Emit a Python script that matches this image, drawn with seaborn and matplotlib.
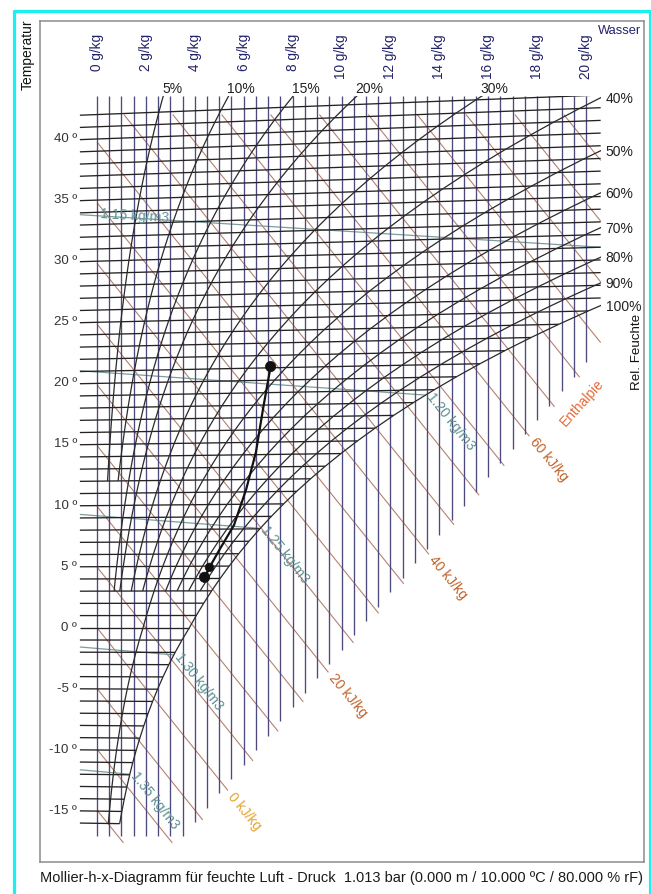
import numpy as np
import pandas as pd
import matplotlib
matplotlib.use("Agg")
import matplotlib.pyplot as plt
from matplotlib.lines import Line2D
from matplotlib.patches import Rectangle
import seaborn as sns

# ---------------- chart data ----------------
PRESSURE_KPA = 101.3  # 1.013 bar

# saturation vapour pressure in kPa (over ice below 0 °C)
SAT_TEMPS = list(range(-17, 46))
SAT_PRESSURE = [
    0.1371, 0.1506, 0.1652, 0.1811, 0.1984, 0.2172, 0.2376, 0.2601, 0.2845,
    0.3105, 0.3385, 0.3689, 0.4019, 0.4375, 0.4760, 0.5177, 0.5627,
    0.6112, 0.6571, 0.7060, 0.7581, 0.8135, 0.8726, 0.9354, 1.0021, 1.0730,
    1.1482, 1.2282, 1.3129, 1.4028, 1.4981, 1.5989, 1.7057, 1.8188, 1.9383,
    2.0647, 2.1982, 2.3392, 2.4881, 2.6452, 2.8109, 2.9856, 3.1697, 3.3637,
    3.5679, 3.7828, 4.0089, 4.2467, 4.4966, 4.7592, 5.0351, 5.3247, 5.6286,
    5.9475, 6.2818, 6.6324, 6.9997, 7.3844, 7.7873, 8.2090, 8.6503, 9.1118,
    9.5944,
]

WATER_TICKS = [0, 2, 4, 6, 8, 10, 12, 14, 16, 18, 20]            # g/kg
WATER_GRID = [i * 0.5 for i in range(41)]                        # g/kg
TEMP_TICKS = [40, 35, 30, 25, 20, 15, 10, 5, 0, -5, -10, -15]     # °C
TEMP_GRID = list(range(-16, 43))                                 # °C
RH_LEVELS = [5, 10, 15, 20, 30, 40, 50, 60, 70, 80, 90, 100]     # %
RH_LOWEST_TEMP = [12, 12, 3, 3, 3, 3, -16, 3, 3, 3, 3, -16]      # °C
RH_TOP_LABELS = [5, 10, 15, 20, 30]
ENTHALPY_GRID = list(range(-15, 96, 5))                          # kJ/kg
ENTHALPY_LABELS = [0, 20, 40, 60]
DENSITY_LEVELS = [1.15, 1.20, 1.25, 1.30, 1.35]                  # kg/m3

# air states of the drawn process (warm state -> cooled states)
PROCESS_TEMP = [21.1, 17.8, 14.2, 11.2, 8.3, 6.3, 4.9, 4.1]
PROCESS_WATER = [7.1, 6.8, 6.5, 6.1, 5.6, 5.0, 4.6, 4.4]
PROCESS_MARKED = [0, 6, 7]

CAPTION = ("Mollier-h-x-Diagramm für feuchte Luft - Druck  1.013 bar "
           "(0.000 m / 10.000 ºC / 80.000 % rF)")

# ---------------- chart geometry ----------------
SKEW = 1.86 / 1.006 / 1000.0     # isotherm tilt per g/kg
X_LEFT, X_RIGHT = -0.7, 20.6     # g/kg
Y_TOP_GRID, Y_TOP_H = 43.5, 42.0
EDGE_SHIFT = 0.6

assert len(SAT_TEMPS) == len(SAT_PRESSURE)


def chart_y(t, x):
    return np.asarray(t, float) * (1.0 + SKEW * np.asarray(x, float))


def water_content(pv):
    return 622.0 * pv / (PRESSURE_KPA - pv)


def fog_edge(x):
    return max(-17.0, -15.7 + 2.35 * (x - 4.08))


def enthalpy_y(h, x):
    return (h - 2.501 * x) / 1.006


def density_temp(rho, x):
    xk = np.asarray(x, float) / 1000.0
    T = PRESSURE_KPA * 1000.0 / (rho * 287.05) * (1 + xk) / (1 + 1.608 * xk)
    return T - 273.15


sat_t = np.array(SAT_TEMPS, float)
sat_p = np.array(SAT_PRESSURE, float)
sat_x = water_content(sat_p)

# ---------------- figure ----------------
sns.set_theme(style="white")
plt.rcParams["font.family"] = ["Liberation Sans", "DejaVu Sans"]

W, H = 651, 894
fig = plt.figure(figsize=(W / 100, H / 100), dpi=100)
fig.patch.set_facecolor("white")
ax = fig.add_axes([40 / W, 1 - 862 / H, 604 / W, 841 / H])
ax.set_facecolor("white")

PX0, PXS, PY0, PYS = 97.0, 24.45, 627.8, 12.22


def from_px(px, py):
    return (px - PX0) / PXS, (PY0 - py) / PYS


clip_box = Rectangle((-1.0, -30.0), X_RIGHT + 1.0, Y_TOP_GRID + 30.0,
                     transform=ax.transData, visible=False)


def draw_family(rows, color, lw, z, clip=False, alpha=1.0):
    frame = pd.DataFrame(rows, columns=["line", "x", "y"])
    n0 = len(ax.lines)
    sns.lineplot(data=frame, x="x", y="y", units="line", estimator=None,
                 sort=False, color=color, linewidth=lw, alpha=alpha,
                 legend=False, ax=ax, zorder=z)
    for ln in ax.lines[n0:]:
        ln.set_solid_capstyle("butt")
        if clip:
            ln.set_clip_path(clip_box)


# enthalpy lines
rows = []
corner = 4.08 - (17.0 - 15.7) / 2.35
for h in ENTHALPY_GRID:
    xs = max(0.0, (h - 1.006 * Y_TOP_H) / 2.501)
    x_slope = (h + 1.006 * (15.7 + EDGE_SHIFT + 2.35 * 4.08)) / (2.501 + 1.006 * 2.35)
    x_flat = (h + 1.006 * (17.0 + EDGE_SHIFT)) / 2.501
    xe = x_slope if x_slope >= corner else x_flat
    xe = min(xe, X_RIGHT)
    if xe <= xs:
        continue
    rows += [(h, xs, enthalpy_y(h, xs)), (h, xe, enthalpy_y(h, xe))]
    if h in ENTHALPY_LABELS:
        col = "#e3a330" if h == 0 else "#c0622a"
        ax.text(xe + 0.12, enthalpy_y(h, xe) - 0.3, f"{h} kJ/kg",
                rotation=-50.5, rotation_mode="anchor", ha="left", va="center",
                fontsize=10, color=col, zorder=6)
draw_family(rows, "#ad7461", 0.8, 1, alpha=0.9)

# density lines
xg = np.linspace(X_LEFT, X_RIGHT, 600)
t_sat_at = np.interp(xg, sat_x, sat_t)
rows = []
for rho in DENSITY_LEVELS:
    diff = density_temp(rho, xg) - t_sat_at
    xe = X_RIGHT if diff[-1] > 0 else float(np.interp(0.0, -diff, xg))
    xl = np.linspace(X_LEFT, xe, 30)
    yl = chart_y(density_temp(rho, xl), xl)
    rows += [(rho, a, b) for a, b in zip(xl, yl)]
    label = f"{rho:.2f} kg/m3"
    if diff[-1] > 0:
        x0 = 0.15
        y0 = float(chart_y(density_temp(rho, x0), x0))
        ax.text(x0, y0 + 0.15, label, rotation=-3.5, rotation_mode="anchor",
                ha="left", va="center", fontsize=10, color="#5d9396", zorder=6)
    else:
        ax.text(xe + 0.15, yl[-1] + 0.05, label, rotation=-51.5,
                rotation_mode="anchor", ha="left", va="center",
                fontsize=10, color="#5d8f92", zorder=6)
draw_family(rows, "#7d9d9d", 0.9, 1.5)

# lines of constant water content
rows = []
for i, xv in enumerate(WATER_GRID):
    rows += [(i, xv, Y_TOP_GRID), (i, xv, fog_edge(xv))]
draw_family(rows, "#4d4a7c", 0.95, 2)

# isotherms
rows = []
for t in TEMP_GRID:
    xe = min(float(np.interp(t, sat_t, sat_x)), X_RIGHT)
    rows += [(t, X_LEFT, float(chart_y(t, X_LEFT))), (t, xe, float(chart_y(t, xe)))]
draw_family(rows, "#262222", 0.95, 2.5, clip=True)

# relative humidity curves
rows = []
for phi, tmin in zip(RH_LEVELS, RH_LOWEST_TEMP):
    m = sat_t >= tmin
    xc = water_content(phi / 100.0 * sat_p[m])
    yc = chart_y(sat_t[m], xc)
    rows += [(phi, a, b) for a, b in zip(xc, yc)]
    if phi in RH_TOP_LABELS:
        xt = float(np.interp(Y_TOP_GRID, yc, xc))
        ax.text(xt - 0.05, Y_TOP_GRID + 0.05, f"{phi}%", ha="left", va="bottom",
                fontsize=10, color="#222222", zorder=6)
    else:
        ye = min(float(np.interp(X_RIGHT, xc, yc)), Y_TOP_GRID)
        ax.text(X_RIGHT + 0.2, ye - 0.1, f"{phi}%", ha="left", va="center",
                fontsize=10, color="#222222", zorder=6)
draw_family(rows, "#2a2a2a", 0.9, 3, clip=True)

# process path and its states
proc = pd.DataFrame({"x": PROCESS_WATER,
                     "y": chart_y(PROCESS_TEMP, PROCESS_WATER)})
sns.lineplot(data=proc, x="x", y="y", sort=False, estimator=None,
             color="#111111", linewidth=1.6, legend=False, ax=ax, zorder=4)
marked = proc.iloc[PROCESS_MARKED]
sns.scatterplot(data=marked, x="x", y="y", s=[55, 38, 55], color="#111111",
                edgecolor="#111111", legend=False, ax=ax, zorder=5)

# axis texts
for xv in WATER_TICKS:
    ax.text(xv, from_px(0, 34)[1], f"{xv} g/kg", rotation=90, ha="center",
            va="top", fontsize=9.8, color="#23236b", zorder=6)
for t in TEMP_TICKS:
    ax.text(from_px(77, 0)[0], t, f"{t} º", ha="right", va="center",
            fontsize=9.5, color="#333333", zorder=6)

ax.text(*from_px(620, 31), "Wasser", ha="center", va="center", fontsize=9.3,
        color="#23236b", zorder=6)
ax.text(*from_px(28, 55), "Temperatur", rotation=90, ha="center", va="center",
        fontsize=10, color="#111111", clip_on=False, zorder=6)
ax.text(*from_px(637, 352), "Rel. Feuchte", rotation=90, ha="center",
        va="center", fontsize=9.6, color="#111111", zorder=6)
ax.text(*from_px(582, 403), "Enthalpie", rotation=48, ha="center",
        va="center", fontsize=10, color="#e36b3a", zorder=6)

fig.text(40 / W, 1 - 878 / H, CAPTION, ha="left", va="center",
         fontsize=10.5, color="#1a1a1a")

# axes limits / frame
ax.set_xlim((40 - PX0) / PXS, (644 - PX0) / PXS)
ax.set_ylim((PY0 - 862) / PYS, (PY0 - 21) / PYS)
ax.set_xticks([])
ax.set_yticks([])
ax.set_xlabel("")
ax.set_ylabel("")
for sp in ax.spines.values():
    sp.set_color("#8c8c8c")
    sp.set_linewidth(1.1)

# outer cyan frame
cy = 1 - 10.5 / H
for xs_, ys_ in [([13.5 / W, 13.5 / W], [0, cy]),
                 ([13.5 / W, 1.0], [cy, cy]),
                 ([649.5 / W, 649.5 / W], [0, cy])]:
    fig.add_artist(Line2D(xs_, ys_, transform=fig.transFigure,
                          color="#19f0f0", linewidth=2.3))

fig.savefig("out.png", dpi=100, facecolor="white")
